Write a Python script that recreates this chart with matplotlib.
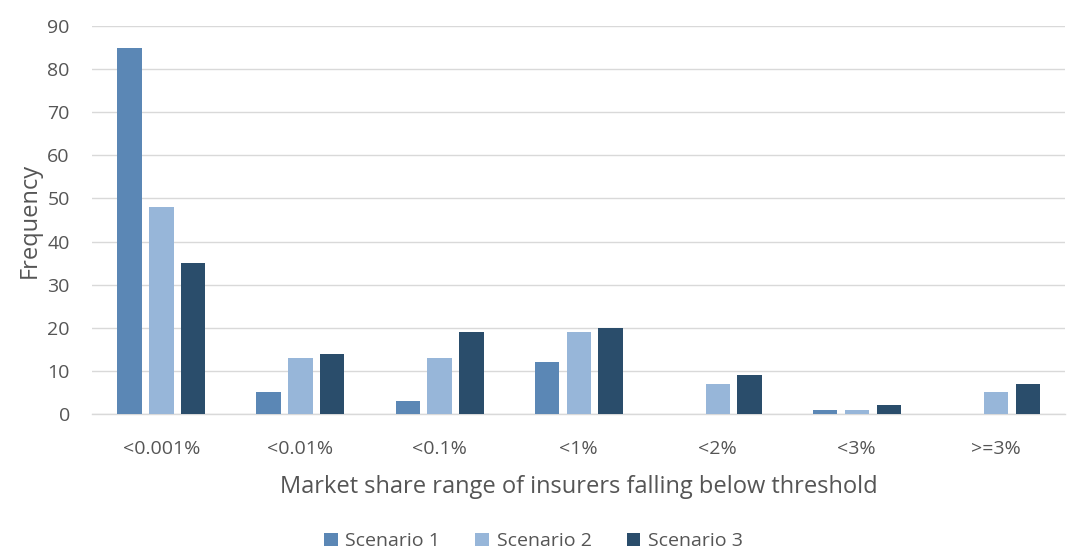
import matplotlib
matplotlib.use("Agg")
import matplotlib.pyplot as plt
import numpy as np

categories = ['<0.001%', '<0.01%', '<0.1%', '<1%', '<2%', '<3%', '>=3%']
scenario1 = [85, 5, 3, 12, 0, 1, 0]
scenario2 = [48, 13, 13, 19, 7, 1, 5]
scenario3 = [35, 14, 19, 20, 9, 2, 7]
series_names = ['Scenario 1', 'Scenario 2', 'Scenario 3']
colors = ['#5b87b5', '#97b6d9', '#2a4d6b']

plt.rcParams['font.family'] = ['Open Sans', 'DejaVu Sans']
text_color = '#555555'

fig = plt.figure(figsize=(10.67, 5.5), dpi=100)
ax = fig.add_axes([0.0862, 0.2473, 0.912, 0.7054])

x = np.arange(len(categories))
width = 0.173
offset = 0.23
for i, (vals, name) in enumerate(zip([scenario1, scenario2, scenario3], series_names)):
    ax.bar(x + (i - 1) * offset, vals, width, color=colors[i], label=name, zorder=3)

ax.set_xlim(-0.5, len(categories) - 0.5)
ax.set_ylim(0, 90)
ax.set_yticks(range(0, 91, 10))
ax.yaxis.grid(True, color='#d9d9d9', linewidth=1, zorder=0)
for s in ['top', 'right', 'left']:
    ax.spines[s].set_visible(False)
ax.spines['bottom'].set_color('#d9d9d9')
ax.spines['bottom'].set_linewidth(1)
ax.tick_params(axis='both', length=0, colors=text_color, labelsize=14)
ax.tick_params(axis='x', pad=19)
ax.tick_params(axis='y', pad=16)
ax.set_xticks(x)
ax.set_xticklabels(categories)

ax.set_xlabel('Market share range of insurers falling below threshold', fontsize=17,
              color=text_color, labelpad=12)
ax.set_ylabel('Frequency', fontsize=17, color=text_color, labelpad=4)

handles, labels = ax.get_legend_handles_labels()
leg = fig.legend(handles, labels, loc='center', bbox_to_anchor=(0.5, 0.016), ncol=3,
                 frameon=False, fontsize=14, handlelength=0.7, handleheight=0.7,
                 handletextpad=0.4, columnspacing=1.8)
for t in leg.get_texts():
    t.set_color(text_color)

fig.savefig('out.png', dpi=100)
